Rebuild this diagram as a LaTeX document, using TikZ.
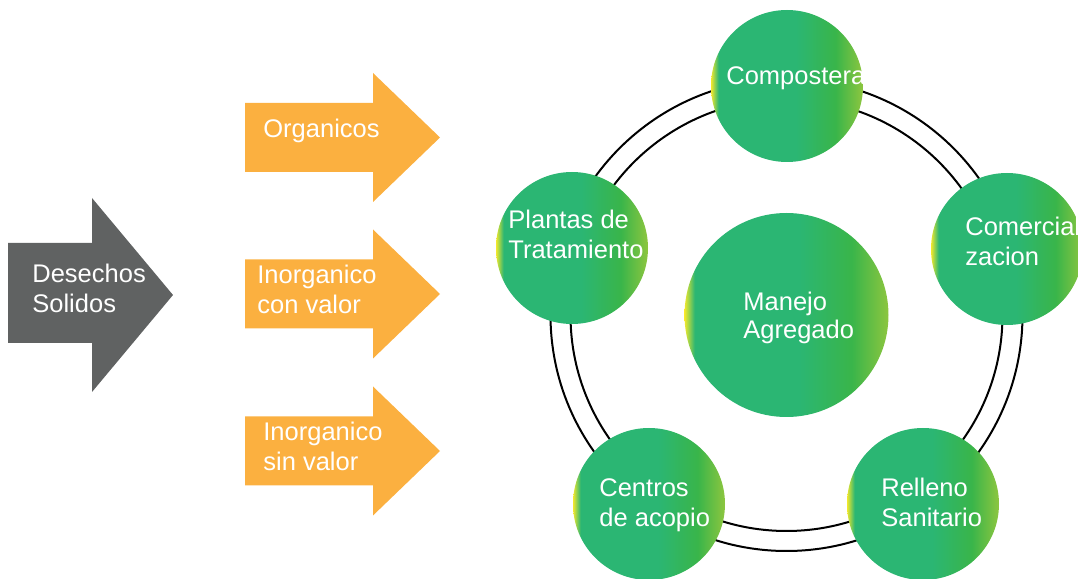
\documentclass[tikz,border=0pt]{standalone}
\usepackage{fontspec}
\setmainfont{Liberation Sans}
\usepackage{xcolor}
\definecolor{wastegray}{HTML}{606262}
\definecolor{flowgold}{HTML}{FBB040}
\definecolor{ballyellow}{HTML}{F2E82C}
\definecolor{ballteal}{HTML}{2BB673}
\definecolor{ballgreen}{HTML}{39B54A}
\definecolor{balllime}{HTML}{8DC63F}
\pgfdeclarehorizontalshading{greenball}{100bp}{color(0bp)=(ballyellow); color(25bp)=(ballyellow); color(27.5bp)=(ballteal); color(53bp)=(ballteal); color(66bp)=(ballgreen); color(75bp)=(balllime); color(100bp)=(balllime)}

\begin{document}
\begin{tikzpicture}[x=0.5pt,y=0.5pt,
  ball/.style={circle,inner sep=0pt,minimum size=76pt,shade,shading=greenball},
  bigball/.style={ball,minimum size=102pt},
  whitetext/.style={white,inner sep=0pt,anchor=base west,align=left,font=\fontsize{12.75}{15}\selectfont}]
  \useasboundingbox (0,0) rectangle (1078,579);
  % Input arrow
  \fill[wastegray] (8,336) -- (92,336) -- (92,381) -- (173,284) -- (92,187) -- (92,236) -- (8,236) -- cycle;
  \node[whitetext] (desechos) at (32,266) {Desechos\\Solidos};
  % Sorting arrows
  \foreach \yc/\yb/\tx/\nm/\txt in {441.5/441/263/org/Organicos, 285/265/257/conval/{Inorganico\\con valor}, 128/108/263/sinval/{Inorganico\\sin valor}}{
    \fill[flowgold] (245,\yc+34.5) -- (373,\yc+34.5) -- (373,\yc+64.5) -- (440,\yc) -- (373,\yc-64.5) -- (373,\yc-34.5) -- (245,\yc-34.5) -- cycle;
    \node[whitetext] (\nm) at (\tx,\yb) {\txt};
  }
  % Double ring
  \draw[line width=1pt] (786.5,264) circle (216);
  \draw[line width=1pt] (786.5,264) circle (236);
  % Destinations
  \node[ball] (comp) at (787,493) {};
  \node[ball] (comer) at (1007,330) {};
  \node[ball] (rell) at (923,75) {};
  \node[ball] (centros) at (649,75) {};
  \node[ball] (plantas) at (572,331) {};
  \node[bigball] (manejo) at (786.5,264) {};
  \node[whitetext] (comp-txt) at (726,494) {Compostera};
  \node[whitetext] (comer-txt) at (965,313) {Comerciali\\zacion};
  \node[whitetext] (rell-txt) at (881,52) {Relleno\\Sanitario};
  \node[whitetext] (centros-txt) at (599,52) {Centros\\de acopio};
  \node[whitetext] (plantas-txt) at (508,320) {Plantas de\\Tratamiento};
  \node[whitetext,font=\fontsize{12.75}{14}\selectfont] (manejo-txt) at (743,240) {Manejo\\Agregado};
\end{tikzpicture}
\end{document}
